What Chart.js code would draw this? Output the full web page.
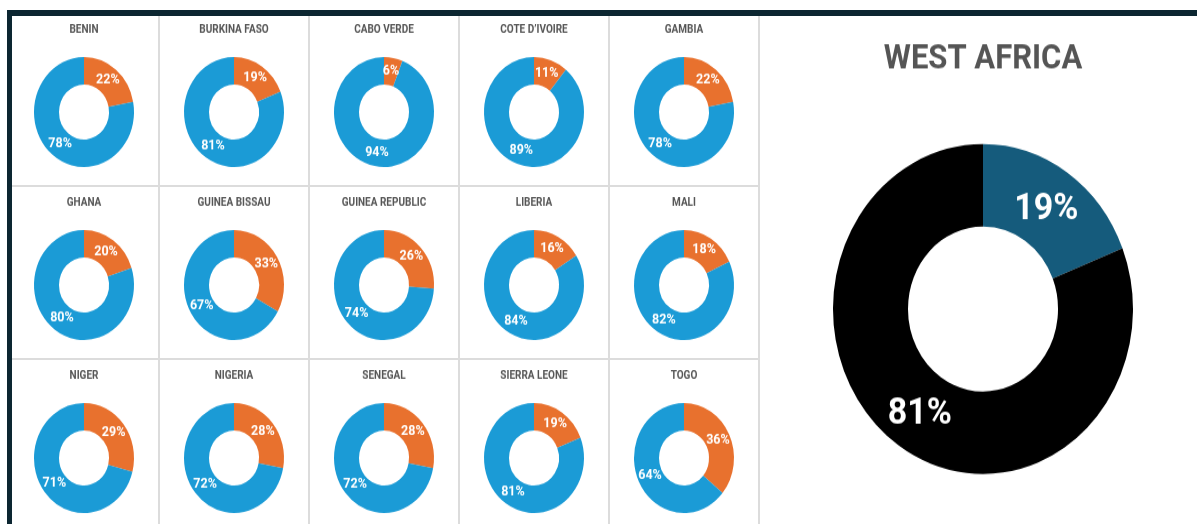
<!DOCTYPE html>
<html><head><meta charset="utf-8">
<script src="https://cdn.jsdelivr.net/npm/chart.js@4.4.1/dist/chart.umd.min.js"></script>
<style>
html,body{margin:0;padding:0;background:#fff;width:1197px;height:524px;overflow:hidden;position:relative}
.abs{position:absolute}
canvas.c{position:absolute;transform:scaleY(1.1);transform-origin:0 0}
</style></head><body>
<script>
const countries = ["BENIN","BURKINA FASO","CABO VERDE","COTE D’IVOIRE","GAMBIA","GHANA","GUINEA BISSAU","GUINEA REPUBLIC","LIBERIA","MALI","NIGER","NIGERIA","SENEGAL","SIERRA LEONE","TOGO"];
const orangeShare = [22,19,6,11,22,20,33,26,16,18,29,28,28,19,36];
const blueShare   = [78,81,94,89,78,80,67,74,84,82,71,72,72,81,64];
const regionName = "WEST AFRICA";
const regionShares = [19,81];

const ORANGE = "#e8712e", BLUE = "#1b9bd6", TEAL = "#155b7c", BLACK = "#000000";
const FONT = "Roboto, 'Open Sans', sans-serif";

function box(l,t,w,h,c){const d=document.createElement('div');d.className='abs';d.style.cssText=`left:${l}px;top:${t}px;width:${w}px;height:${h}px;background:${c}`;document.body.appendChild(d);}
// grid lines
const GRID="#dcdcdc";
[158,308,458,608,757.5].forEach(x=>box(x,16,2,508,GRID));
[185,358].forEach(y=>box(12,y,746,2,GRID));
// dark frame
box(7,10,1190,6,"#0c2631");
box(7,10,5,514,"#0c2631");

const pctLabels = {
  id:'pctLabels',
  afterDatasetsDraw(chart, args, opts){
    const ctx=chart.ctx;
    const meta=chart.getDatasetMeta(0);
    const data=chart.data.datasets[0].data;
    ctx.save();
    ctx.fillStyle='#fff';
    ctx.font=`bold ${opts.size}px ${FONT}`;
    ctx.textAlign='center';ctx.textBaseline='middle';
    meta.data.forEach((arc,i)=>{const p=arc.tooltipPosition();ctx.fillText(data[i]+'%',p.x,p.y+opts.dy);});
    ctx.restore();
  }
};

function makeCanvas(l,t,w,h){const c=document.createElement('canvas');c.className='c';c.width=w;c.height=h;c.style.left=l+'px';c.style.top=t+'px';document.body.appendChild(c);return c;}

const colCenters=[84,234,384,534,684];
const rowTops=[13,186,359];
countries.forEach((name,i)=>{
  const col=i%5,row=Math.floor(i/5);
  const cv=makeCanvas(colCenters[col]-73,rowTops[row],146,150);
  cv.getContext('2d').letterSpacing='0.6px';
  new Chart(cv,{type:'doughnut',
    data:{labels:['Orange','Blue'],datasets:[{data:[orangeShare[i],blueShare[i]],backgroundColor:[ORANGE,BLUE],borderWidth:0}]},
    options:{responsive:false,animation:false,events:[],cutout:'50%',radius:50,
      layout:{padding:{bottom:10}},
      plugins:{legend:{display:false},tooltip:{enabled:false},
        title:{display:true,text:name,color:'#555555',font:{family:FONT,size:10,weight:'bold'},padding:{top:9.8,bottom:18.2}},
        pctLabels:{size:12.5,dy:0}}},
    plugins:[pctLabels]});
});

const big=makeCanvas(783,20,400,440);
new Chart(big,{type:'doughnut',
  data:{labels:['Share','Rest'],datasets:[{data:regionShares,backgroundColor:[TEAL,BLACK],borderWidth:0}]},
  options:{responsive:false,animation:false,events:[],cutout:'50%',radius:150,
    layout:{padding:{bottom:27.3}},
    plugins:{legend:{display:false},tooltip:{enabled:false},
      title:{display:true,text:regionName,color:'#555555',font:{family:FONT,size:31,weight:'bold'},padding:{top:17.3,bottom:58.2}},
      pctLabels:{size:34,dy:3}}},
  plugins:[pctLabels]});
</script>
</body></html>
